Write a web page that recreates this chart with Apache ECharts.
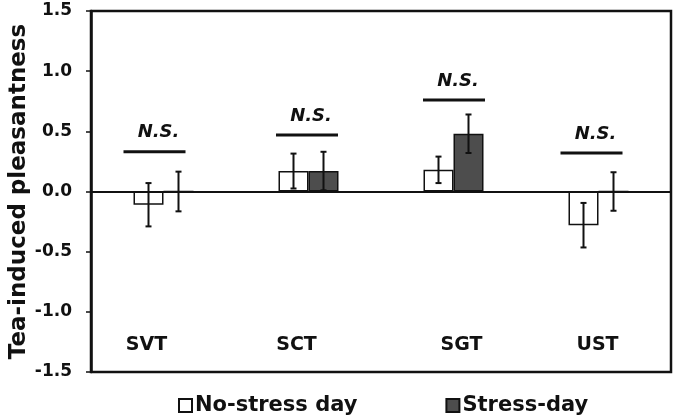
<!DOCTYPE html>
<html>
<head>
<meta charset="utf-8">
<script src="https://cdn.jsdelivr.net/npm/echarts@6/dist/echarts.min.js"></script>
<style>html,body{margin:0;padding:0;background:#fff;}#c{width:675px;height:420px;}</style>
</head>
<body>
<div id="c"></div>
<script>
const categories = ['SVT', 'SCT', 'SGT', 'UST'];
const noStress = [-0.11, 0.17, 0.18, -0.28];
const noStressErr = [0.18, 0.145, 0.11, 0.185];
const stress = [0.0, 0.17, 0.48, 0.0];
const stressErr = [0.165, 0.16, 0.16, 0.16];
const nsLevel = [0.33, 0.47, 0.76, 0.32];
const nsText = ['N.S.', 'N.S.', 'N.S.', 'N.S.'];
const yTicks = [-1.5, -1.0, -0.5, 0.0, 0.5, 1.0, 1.5];
const catLabelLevel = -1.28;

const FONT = 'DejaVu Sans, sans-serif';
const chart = echarts.init(document.getElementById('c'), null, {renderer: 'canvas'});

const BAR_W = 30;
function errData(vals, errs) {
  return vals.map((v, i) => [i, v, errs[i]]);
}
function errRender(side) {
  return function (params, api) {
    const i = api.value(0), v = api.value(1), e = api.value(2);
    const c = api.coord([i, v]);
    const x = c[0] + side * BAR_W / 2;
    const yTop = api.coord([i, v + e])[1];
    const yBot = api.coord([i, v - e])[1];
    const cap = 3;
    const st = {stroke: '#111', lineWidth: 2};
    return {
      type: 'group',
      children: [
        {type: 'line', shape: {x1: x, y1: yTop, x2: x, y2: yBot}, style: st},
        {type: 'line', shape: {x1: x - cap, y1: yTop, x2: x + cap, y2: yTop}, style: st},
        {type: 'line', shape: {x1: x - cap, y1: yBot, x2: x + cap, y2: yBot}, style: st}
      ]
    };
  };
}

const option = {
  animation: false,
  grid: {left: 91, right: 4, top: 11, bottom: 48, containLabel: false, outerBoundsMode: 'none',
    show: true, borderColor: '#111', borderWidth: 2.5, backgroundColor: 'transparent'},
  legend: {
    left: 173, top: 390,
    itemWidth: 13, itemHeight: 13, itemGap: 88,
    icon: 'rect',
    textStyle: {fontFamily: FONT, fontWeight: 'bold', fontSize: 21, color: '#111', padding: [0, 0, 0, -2]},
    data: ['No-stress day', 'Stress-day']
  },
  xAxis: {
    type: 'category', data: categories,
    axisLine: {onZero: true, lineStyle: {color: '#111', width: 2}},
    axisTick: {show: false}, axisLabel: {show: false}, splitLine: {show: false}
  },
  yAxis: {
    type: 'value', min: -1.5, max: 1.5, interval: 0.5,
    name: 'Tea-induced pleasantness', nameLocation: 'middle', nameGap: 60, nameMoveOverlap: false,
    nameTextStyle: {fontFamily: FONT, fontWeight: 'bold', fontSize: 23, color: '#111'},
    axisLine: {show: true, onZero: false, lineStyle: {color: '#111', width: 2.5}},
    axisTick: {show: true, inside: false, length: 5, lineStyle: {color: '#111', width: 1.5}},
    axisLabel: {fontFamily: FONT, fontWeight: 'bold', fontSize: 17, color: '#111', margin: 19,
      formatter: v => yTicks.includes(v) ? v.toFixed(1) : ''},
    splitLine: {show: false}
  },
  series: [
    {
      name: 'No-stress day', type: 'bar', data: noStress, barWidth: BAR_W, barGap: '0%',
      itemStyle: {color: '#ffffff', borderColor: '#111', borderWidth: 1.5}
    },
    {
      name: 'Stress-day', type: 'bar', data: stress, barWidth: BAR_W, barGap: '0%',
      itemStyle: {color: '#4d4d4d', borderColor: '#111', borderWidth: 1.5}
    },
    {
      type: 'custom', data: errData(noStress, noStressErr), renderItem: errRender(-1), z: 5, silent: true
    },
    {
      type: 'custom', data: errData(stress, stressErr), renderItem: errRender(1), z: 5, silent: true
    },
    {
      type: 'custom', silent: true, z: 6,
      data: nsLevel.map((v, i) => [i, v]),
      renderItem: function (params, api) {
        const shift = [-9, -1.5, 0.5, -7];
        const i = api.value(0), v = api.value(1);
        const c = api.coord([i, v]);
        const cx = c[0] + shift[params.dataIndex];
        return {
          type: 'group',
          children: [
            {type: 'line', shape: {x1: cx - 31, y1: c[1], x2: cx + 31, y2: c[1]}, style: {stroke: '#111', lineWidth: 3}},
            {type: 'text', x: cx + 4, y: c[1] - 19,
              style: {text: nsText[params.dataIndex], fontFamily: FONT, fontWeight: 'bold', fontStyle: 'italic', fontSize: 18,
                fill: '#111', align: 'center', verticalAlign: 'middle'}}
          ]
        };
      }
    },
    {
      type: 'custom', silent: true, z: 6,
      data: categories.map((c, i) => [i, catLabelLevel]),
      renderItem: function (params, api) {
        const offs = [-17, -12, 8, -1];
        const c = api.coord([api.value(0), api.value(1)]);
        return {type: 'text', x: c[0] + offs[params.dataIndex], y: c[1],
          style: {text: categories[params.dataIndex], fontFamily: FONT, fontWeight: 'bold', fontSize: 19,
            fill: '#111', align: 'center', verticalAlign: 'middle'}};
      }
    }
  ]
};
chart.setOption(option);
</script>
</body>
</html>
